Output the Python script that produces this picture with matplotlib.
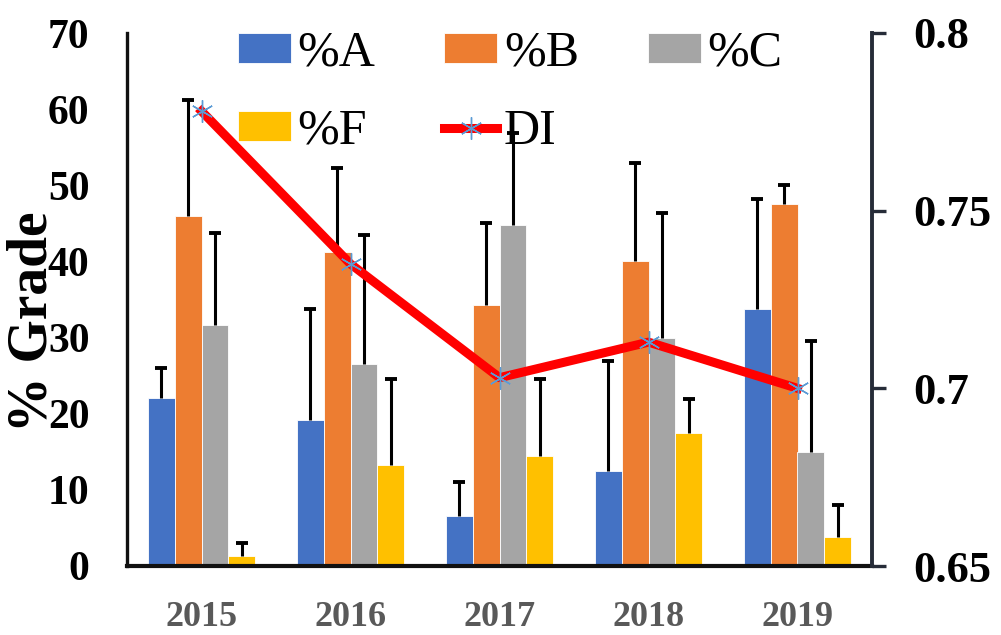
import matplotlib.pyplot as plt
import numpy as np
from matplotlib.ticker import FuncFormatter

years = ["2015", "2016", "2017", "2018", "2019"]

pct_a = [22.1, 19.2, 6.6, 12.5, 33.8]
pct_b = [46.0, 41.2, 34.3, 40.1, 47.6]
pct_c = [31.6, 26.5, 44.8, 30.0, 15.0]
pct_f = [1.3, 13.3, 14.4, 17.5, 3.8]

err_a = [3.9, 14.6, 4.4, 14.4, 14.4]
err_b = [15.2, 11.1, 10.8, 12.8, 2.5]
err_c = [12.1, 17.0, 12.1, 16.3, 14.6]
err_f = [1.7, 11.3, 10.2, 4.4, 4.2]

di = [0.778, 0.735, 0.703, 0.713, 0.700]

series = [
    ("%A", pct_a, err_a, "#4472C4"),
    ("%B", pct_b, err_b, "#ED7D31"),
    ("%C", pct_c, err_c, "#A5A5A5"),
    ("%F", pct_f, err_f, "#FFC000"),
]

SERIF = "Liberation Serif"


def main():
    fig = plt.figure(figsize=(10.01, 6.35), dpi=100)
    ax = fig.add_axes([127 / 1001, 1 - 566 / 635, 745 / 1001, 533 / 635])
    ax2 = ax.twinx()

    x = np.arange(len(years))
    width = 0.181
    handles = {}
    for i, (name, vals, errs, color) in enumerate(series):
        pos = x + (i - 1.5) * width
        bars = ax.bar(pos, vals, width, color=color, edgecolor="white",
                      linewidth=0.6, label=name, zorder=2)
        # upward-only error bars: hide the cap that sits on the bar top
        eb = ax.errorbar(pos, vals, yerr=[np.zeros(len(errs)), errs],
                         fmt="none", ecolor="black", elinewidth=2.2,
                         capsize=4.5, capthick=2.8, zorder=3)
        eb[1][0].set_visible(False)
        handles[name] = bars

    (line,) = ax2.plot(x, di, color="red", linewidth=6.5, marker=(6, 2, 0),
                       markersize=16, markeredgecolor="#5B9BD5",
                       markeredgewidth=1.0, label="DI", zorder=5)
    handles["DI"] = line

    ax.set_xlim(-0.5, len(years) - 0.5)
    ax.set_ylim(0, 70)
    ax.set_yticks(np.arange(0, 71, 10))
    ax.set_xticks(x)
    ax.set_xticklabels(years)
    ax2.set_ylim(0.65, 0.8)
    ax2.set_yticks([0.65, 0.7, 0.75, 0.8])
    ax2.yaxis.set_major_formatter(FuncFormatter(lambda v, p: f"{v:g}"))

    for s in ["top", "right"]:
        ax.spines[s].set_visible(False)
    for s in ["top", "left", "bottom"]:
        ax2.spines[s].set_visible(False)
    ax.spines["left"].set_linewidth(2.4)
    ax.spines["left"].set_color("#111111")
    ax.spines["bottom"].set_linewidth(3.0)
    ax.spines["bottom"].set_color("#111111")
    ax2.spines["right"].set_linewidth(2.8)
    ax2.spines["right"].set_color("#262C38")

    ax.tick_params(axis="y", length=0, pad=27)
    ax.tick_params(axis="x", length=0, pad=25)
    ax2.tick_params(axis="y", length=10, width=2.4, color="#262C38",
                    direction="out", pad=20)

    for lab in ax.get_yticklabels():
        lab.set_fontfamily(SERIF)
        lab.set_fontweight("bold")
        lab.set_fontsize(30)
    for lab in ax.get_xticklabels():
        lab.set_fontfamily(SERIF)
        lab.set_fontweight("bold")
        lab.set_fontsize(26)
        lab.set_color("#595959")
    for lab in ax2.get_yticklabels():
        lab.set_fontfamily(SERIF)
        lab.set_fontweight("bold")
        lab.set_fontsize(32)

    fig.text(33 / 1001, 1 - 322 / 635, "% Grade", rotation=90, ha="center",
             va="center", fontfamily=SERIF, fontweight="bold", fontsize=40)

    order = ["%A", "%F", "%B", "DI", "%C"]
    ax2.legend([handles[k] for k in order], order, ncol=3, frameon=False,
               loc="upper left", bbox_to_anchor=(238 / 1001, 1 - 30 / 635),
               bbox_transform=fig.transFigure, borderpad=0, borderaxespad=0,
               handlelength=1.05, handleheight=0.55, handletextpad=0.14,
               columnspacing=1.38, labelspacing=0.64,
               prop={"family": SERIF, "size": 36})

    fig.savefig("out.png", dpi=100)
    plt.close(fig)


if __name__ == "__main__":
    main()
